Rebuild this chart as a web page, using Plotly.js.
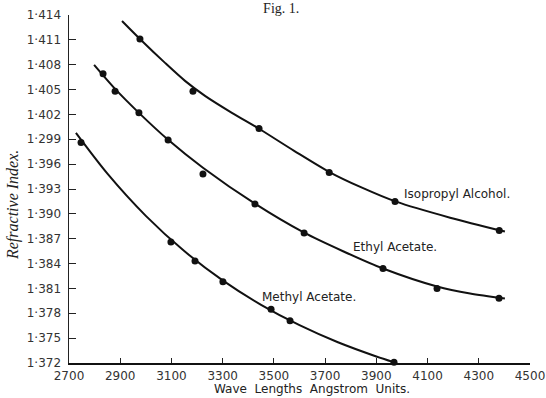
<!DOCTYPE html>
<html>
<head>
<meta charset="utf-8">
<script src="https://cdn.plot.ly/plotly-3.0.1.min.js"></script>
<style>html,body{margin:0;padding:0;background:#fff;}#chart{width:546px;height:398px;}</style>
</head>
<body>
<div id="chart"></div>
<script>
// Measured points (wavelength in Angstrom, refractive index)
const isoX = [2977, 3184, 3442, 3716, 3973, 4380];
const isoY = [1.4111, 1.4048, 1.4003, 1.3950, 1.3915, 1.3880];
const ethylX = [2833, 2880, 2973, 3087, 3223, 3426, 3618, 3926, 4137, 4379];
const ethylY = [1.4069, 1.4048, 1.4022, 1.3989, 1.3948, 1.3912, 1.3877, 1.3834, 1.3810, 1.3798];
const methylX = [2747, 3098, 3192, 3301, 3489, 3563, 3969];
const methylY = [1.3986, 1.3866, 1.3843, 1.3818, 1.3785, 1.3771, 1.3721];

// Drawn smooth curves
const isoCurveX = [2907, 2977, 3075, 3153, 3231, 3336, 3442, 3579, 3715, 3844, 3977, 4188, 4402];
const isoCurveY = [1.41328, 1.41111, 1.40822, 1.40605, 1.40424, 1.40219, 1.40027, 1.39761, 1.39508, 1.39316, 1.39147, 1.38954, 1.38786];
const ethylCurveX = [2798, 2880, 2973, 3087, 3223, 3426, 3618, 3770, 3926, 4137, 4266, 4402];
const ethylCurveY = [1.40798, 1.40508, 1.40219, 1.39894, 1.39557, 1.39123, 1.38773, 1.38549, 1.38340, 1.38123, 1.38038, 1.37978];
const methylCurveX = [2727, 2850, 3000, 3150, 3300, 3450, 3600, 3750, 3900, 3975];
const methylCurveY = [1.39977, 1.39485, 1.38976, 1.38551, 1.38197, 1.37902, 1.37656, 1.37450, 1.37279, 1.37205];

// Tick labels
const xTickVals = [2700, 2900, 3100, 3300, 3500, 3700, 3900, 4100, 4300, 4500];
const xTickText = ["2700", "2900", "3100", "3300", "3500", "3700", "3900", "4100", "4300", "4500"];
const yTickVals = [1.372, 1.375, 1.378, 1.381, 1.384, 1.387, 1.390, 1.393, 1.396, 1.399, 1.402, 1.405, 1.408, 1.411, 1.414];
const yTickText = ["1·372", "1·375", "1·378", "1·381", "1·384", "1·387", "1·390", "1·393", "1·396", "1·299", "1·402", "1·405", "1·408", "1·411", "1·414"];

const seriesNames = ["Isopropyl Alcohol.", "Ethyl Acetate.", "Methyl Acetate."];

function curve(x, y, name) {
  return {x: x, y: y, mode: 'lines', type: 'scatter', name: name, showlegend: false,
    line: {color: '#111', width: 2, shape: 'spline', smoothing: 0.8}, hoverinfo: 'skip', cliponaxis: false};
}
function pts(x, y, name) {
  return {x: x, y: y, mode: 'markers', type: 'scatter', name: name, showlegend: false,
    marker: {color: '#111', size: 7, symbol: 'circle'}, cliponaxis: false};
}

const data = [
  curve(isoCurveX, isoCurveY, seriesNames[0]), pts(isoX, isoY, seriesNames[0]),
  curve(ethylCurveX, ethylCurveY, seriesNames[1]), pts(ethylX, ethylY, seriesNames[1]),
  curve(methylCurveX, methylCurveY, seriesNames[2]), pts(methylX, methylY, seriesNames[2])
];

const tickFont = {family: 'DejaVu Sans, sans-serif', size: 12, color: '#333'};
const labelFont = {family: 'DejaVu Sans, sans-serif', size: 12, color: '#222'};

const plotW = 546 - 69 - 16, plotH = 398 - 15 - 35;
const layout = {
  width: 546, height: 398,
  margin: {l: 69, r: 16, t: 15, b: 35},
  paper_bgcolor: '#fff', plot_bgcolor: '#fff',
  showlegend: false,
  title: {text: 'Fig. 1.', font: {family: 'Liberation Serif, serif', size: 14, color: '#222'},
    x: 0.515, xanchor: 'center', xref: 'container', y: 0.98, yanchor: 'middle', yref: 'container'},
  xaxis: {
    range: [2700, 4500], tickmode: 'array', tickvals: xTickVals, ticktext: xTickText,
    ticks: 'inside', ticklen: 5, tickwidth: 1, tickcolor: '#222',
    showgrid: false, zeroline: false, showline: true, linecolor: '#111', linewidth: 2,
    tickfont: tickFont, ticklabelstandoff: 1
  },
  yaxis: {
    range: [1.372, 1.414], tickmode: 'array', tickvals: yTickVals, ticktext: yTickText,
    ticks: 'inside', ticklen: 7, tickwidth: 1, tickcolor: '#222',
    showgrid: false, zeroline: false, showline: true, linecolor: '#222', linewidth: 1.5,
    tickfont: tickFont, ticklabelstandoff: 4
  },
  annotations: [
    {x: 4215, y: 1.39243, xref: 'x', yref: 'y', text: seriesNames[0], showarrow: false, font: labelFont},
    {x: 3973, y: 1.38605, xref: 'x', yref: 'y', text: seriesNames[1], showarrow: false, font: labelFont},
    {x: 3637, y: 1.3800, xref: 'x', yref: 'y', text: seriesNames[2], showarrow: false, font: labelFont},
    {x: (13 - 69) / plotW, y: 1 - (205 - 15) / plotH, xref: 'paper', yref: 'paper', xanchor: 'center', yanchor: 'middle',
      text: 'Refractive Index.', showarrow: false, textangle: -90,
      font: {family: 'Liberation Serif, serif', size: 16, color: '#222', style: 'italic'}},
    {x: (312 - 69) / plotW, y: 1 - (389 - 15) / plotH, xref: 'paper', yref: 'paper', xanchor: 'center', yanchor: 'middle',
      text: 'Wave  Lengths  Angstrom  Units.', showarrow: false, font: labelFont}
  ]
};

Plotly.newPlot('chart', data, layout, {displayModeBar: false, staticPlot: true});
</script>
</body>
</html>
